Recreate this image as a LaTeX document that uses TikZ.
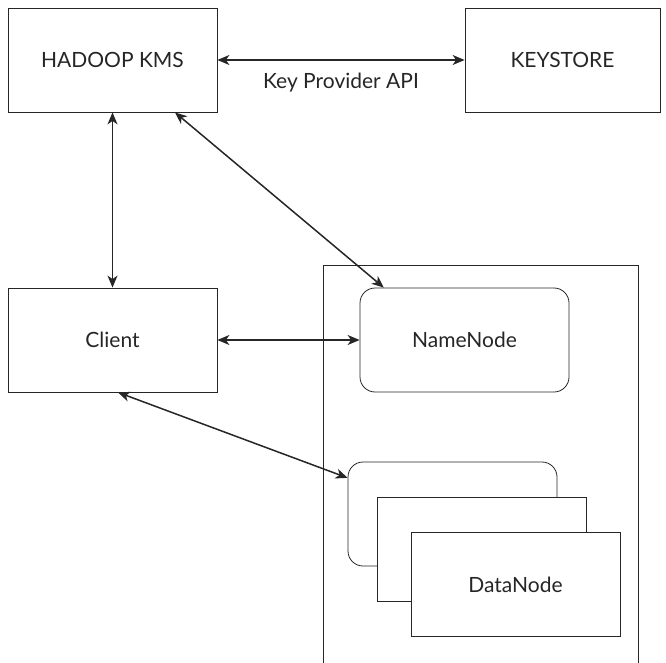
\documentclass[tikz,border=0pt]{standalone}
\usepackage{fontspec}
\setmainfont{Lato}
\usetikzlibrary{arrows.meta}

\begin{document}
\begin{tikzpicture}[x=1pt, y=-1pt,
    box/.style={draw=black!85, line width=0.8pt, fill=white, minimum width=209pt,
      minimum height=104pt, text=black!85, font=\fontsize{21}{24}\selectfont},
    roundbox/.style={box, rounded corners=15pt},
    link/.style={<->, draw=black!85, line width=1.5pt, >={Stealth[length=12pt, width=10pt, inset=3.5pt]}}]
  \useasboundingbox (0,0) rectangle (666,663);
  % top row
  \node[box] (kms) at (112.5,60) {HADOOP KMS};
  \node[box, minimum width=195pt] (keystore) at (562.5,60) {KEYSTORE};
  \node[box] (client) at (112.5,340) {Client};
  % cluster, open at the bottom
  \draw[draw=black!85, line width=0.8pt] (323,663) -- (323,265) -- (638,265) -- (638,663);
  \node[roundbox] (namenode) at (464.5,340) {NameNode};
  \node[roundbox] (dnback) at (452.5,514) {};
  \node[box] (dnmid) at (481.5,549.5) {};
  \node[box] (datanode) at (515.5,584.5) {DataNode};
  % connectors
  \draw[link] (kms) -- node[below=9pt, text=black!85, font=\fontsize{21}{24}\selectfont] {Key Provider API} (keystore);
  \draw[link] (kms) -- (client);
  \draw[link] (kms.-40.7) -- (namenode.147.7);
  \draw[link] (client) -- (namenode);
  \draw[link] (client.-84) -- (dnback.161);
\end{tikzpicture}
\end{document}
